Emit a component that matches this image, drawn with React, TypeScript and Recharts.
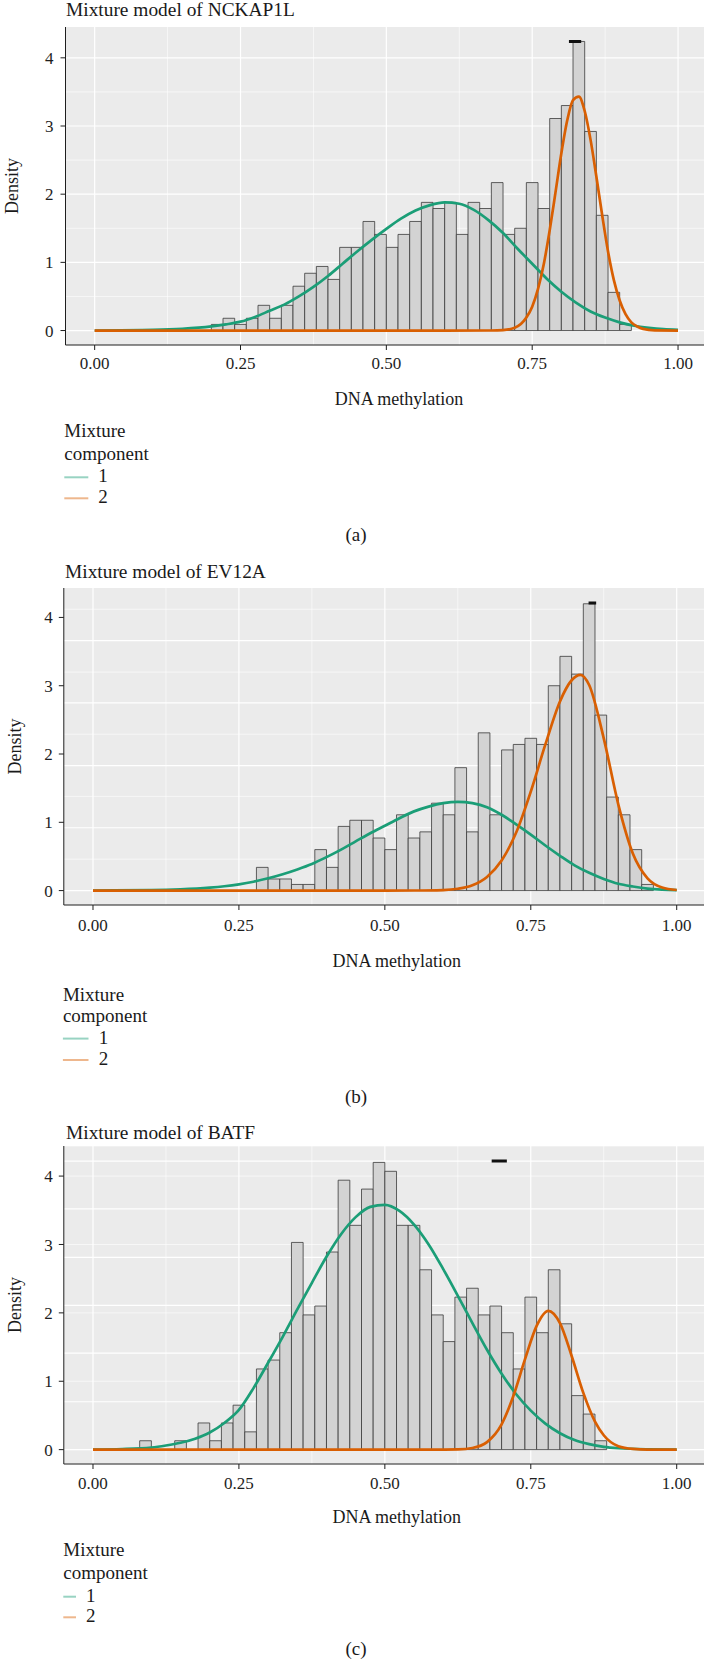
import React from "react"
import { ComposedChart, XAxis, YAxis, Line, ReferenceArea, CartesianGrid } from "recharts"

// histogram bins: [lower edge, density], bin width 0.02
const histA = [
  [0.2, 0.09], [0.22, 0.18], [0.24, 0.09], [0.26, 0.18], [0.28, 0.37], [0.3, 0.18], [0.32, 0.37],
  [0.34, 0.65], [0.36, 0.84], [0.38, 0.94], [0.4, 0.75], [0.42, 1.22], [0.44, 1.22], [0.46, 1.6],
  [0.48, 1.41], [0.5, 1.22], [0.52, 1.41], [0.54, 1.6], [0.56, 1.88], [0.58, 1.79], [0.6, 1.88],
  [0.62, 1.41], [0.64, 1.88], [0.66, 1.79], [0.68, 2.17], [0.7, 1.41], [0.72, 1.5], [0.74, 2.17],
  [0.76, 1.79], [0.78, 3.11], [0.8, 3.3], [0.82, 4.24], [0.84, 2.92], [0.86, 1.69], [0.88, 0.56],
  [0.9, 0.09],
]
const histB = [
  [0.28, 0.34], [0.3, 0.17], [0.32, 0.17], [0.34, 0.09], [0.36, 0.09], [0.38, 0.6], [0.4, 0.34],
  [0.42, 0.94], [0.44, 1.03], [0.46, 1.03], [0.48, 0.77], [0.5, 0.6], [0.52, 1.11], [0.54, 0.77],
  [0.56, 0.86], [0.58, 1.28], [0.6, 1.11], [0.62, 1.8], [0.64, 0.86], [0.66, 2.31], [0.68, 1.11],
  [0.7, 2.06], [0.72, 2.14], [0.74, 2.23], [0.76, 2.14], [0.78, 3.0], [0.8, 3.43], [0.82, 3.17],
  [0.84, 4.2], [0.86, 2.57], [0.88, 1.37], [0.9, 1.11], [0.92, 0.6], [0.94, 0.09],
]
const histC = [
  [0.08, 0.13], [0.14, 0.13], [0.18, 0.39], [0.2, 0.13], [0.22, 0.39], [0.24, 0.65], [0.26, 0.26],
  [0.28, 1.18], [0.3, 1.31], [0.32, 1.71], [0.34, 3.03], [0.36, 1.97], [0.38, 2.1], [0.4, 2.89],
  [0.42, 3.94], [0.44, 3.28], [0.46, 3.81], [0.48, 4.2], [0.5, 4.07], [0.52, 3.28], [0.54, 3.28],
  [0.56, 2.63], [0.58, 1.97], [0.6, 1.58], [0.62, 2.23], [0.64, 2.36], [0.66, 1.97], [0.68, 2.1],
  [0.7, 1.71], [0.72, 1.18], [0.74, 2.23], [0.76, 1.71], [0.78, 2.63], [0.8, 1.84], [0.82, 0.79],
  [0.84, 0.52], [0.86, 0.13],
]

// fitted component densities: [x, density]
const comp1A = [
  [0, 0.001], [0.1, 0.01], [0.15, 0.025], [0.2, 0.06], [0.225, 0.09], [0.25, 0.13], [0.275, 0.2],
  [0.3, 0.29], [0.325, 0.38], [0.35, 0.5], [0.375, 0.64], [0.4, 0.8], [0.425, 0.98], [0.45, 1.16],
  [0.475, 1.33], [0.5, 1.49], [0.525, 1.64], [0.55, 1.76], [0.575, 1.84], [0.6, 1.88], [0.625, 1.86],
  [0.65, 1.77], [0.675, 1.62], [0.7, 1.43], [0.725, 1.2], [0.75, 0.98], [0.775, 0.76], [0.8, 0.57],
  [0.825, 0.41], [0.85, 0.28], [0.875, 0.19], [0.9, 0.12], [0.925, 0.07], [0.95, 0.04], [0.975, 0.02],
  [1, 0.01],
]
const comp2A = [
  [0, 0], [0.6, 0], [0.68, 0.001], [0.7, 0.007], [0.72, 0.04], [0.74, 0.19], [0.75, 0.35], [0.76, 0.61],
  [0.77, 0.98], [0.78, 1.47], [0.79, 2.03], [0.8, 2.6], [0.81, 3.08], [0.82, 3.38], [0.83, 3.43],
  [0.84, 3.22], [0.85, 2.8], [0.86, 2.26], [0.87, 1.69], [0.88, 1.16], [0.89, 0.74], [0.9, 0.44],
  [0.91, 0.24], [0.92, 0.12], [0.93, 0.06], [0.94, 0.025], [0.96, 0.003], [1, 0],
]
const comp1B = [
  [0, 0.001], [0.1, 0.007], [0.15, 0.019], [0.2, 0.044], [0.225, 0.064], [0.25, 0.092], [0.275, 0.13],
  [0.3, 0.18], [0.325, 0.24], [0.35, 0.31], [0.375, 0.39], [0.4, 0.49], [0.425, 0.6], [0.45, 0.72],
  [0.475, 0.84], [0.5, 0.95], [0.525, 1.06], [0.55, 1.16], [0.575, 1.23], [0.6, 1.28], [0.625, 1.3],
  [0.65, 1.28], [0.675, 1.22], [0.7, 1.11], [0.725, 0.97], [0.75, 0.82], [0.775, 0.66], [0.8, 0.51],
  [0.825, 0.37], [0.85, 0.26], [0.875, 0.17], [0.9, 0.1], [0.925, 0.06], [0.95, 0.03], [0.975, 0.015],
  [1, 0.008],
]
const comp2B = [
  [0, 0], [0.5, 0], [0.55, 0.001], [0.6, 0.008], [0.625, 0.027], [0.65, 0.078], [0.675, 0.2], [0.7, 0.44],
  [0.725, 0.85], [0.75, 1.45], [0.775, 2.14], [0.8, 2.77], [0.82, 3.08], [0.835, 3.16], [0.85, 3.01],
  [0.875, 2.23], [0.9, 1.26], [0.925, 0.54], [0.95, 0.18], [0.975, 0.045], [1, 0.009],
]
const comp1C = [
  [0, 0.001], [0.05, 0.008], [0.1, 0.03], [0.125, 0.06], [0.15, 0.1], [0.175, 0.16], [0.2, 0.25],
  [0.225, 0.39], [0.25, 0.58], [0.275, 0.9], [0.3, 1.27], [0.325, 1.65], [0.35, 2.05], [0.375, 2.44],
  [0.4, 2.82], [0.425, 3.15], [0.45, 3.4], [0.475, 3.55], [0.5, 3.58], [0.525, 3.49], [0.55, 3.29],
  [0.575, 3.0], [0.6, 2.64], [0.625, 2.25], [0.65, 1.85], [0.675, 1.46], [0.7, 1.11], [0.725, 0.81],
  [0.75, 0.57], [0.775, 0.38], [0.8, 0.24], [0.825, 0.14], [0.85, 0.08], [0.875, 0.04], [0.9, 0.02],
  [0.95, 0.005], [1, 0.001],
]
const comp2C = [
  [0, 0], [0.58, 0], [0.625, 0.004], [0.65, 0.024], [0.675, 0.11], [0.7, 0.37], [0.72, 0.78], [0.74, 1.32],
  [0.76, 1.81], [0.78, 2.03], [0.8, 1.85], [0.82, 1.37], [0.84, 0.83], [0.86, 0.41], [0.875, 0.21],
  [0.9, 0.05], [0.925, 0.01], [0.95, 0.001], [1, 0],
]

// the short black dash near the top of each panel
const markA = [[0.813, 4.24], [0.834, 4.24]]
const markB = [[0.849, 4.21], [0.862, 4.21]]
const markC = [[0.683, 4.22], [0.709, 4.22]]

const titles = ["Mixture model of NCKAP1L", "Mixture model of EV12A", "Mixture model of BATF"]
const captions = ["(a)", "(b)", "(c)"]
const components = ["1", "2"]
const xTicks = [0, 0.25, 0.5, 0.75, 1]
const xMinor = [0.125, 0.375, 0.625, 0.875]
const yTicks = [0, 1, 2, 3, 4]

// horizontal grid lines as they sit in each panel
const gridMajorA = [0, 1, 2, 3, 4]
const gridMinorA = [0.5, 1.5, 2.5, 3.5]
const gridMajorB = [0, 0.92, 1.83, 2.75, 3.66]
const gridMinorB = [0.46, 1.38, 2.29, 3.2, 4.12]
const gridMajorC = [0, 0.7, 1.41, 2.11, 2.81, 3.52, 4.22]
const gridMinorC: number[] = []

const COL1 = "#1b9e77"
const COL2 = "#d95f02"
const FONT = "Liberation Serif, DejaVu Serif, serif"
const W = 720
const PAD = 8
const AXIS_H = 34

const panels = [
  {
    hist: histA, c1: comp1A, c2: comp2A, mark: markA, major: gridMajorA, minor: gridMinorA,
    top: 27, bottom: 345, left: 65.5, right: 707.2, yDomain: [-0.212, 4.452], xGap: 7, yGap: 7,
    titleY: 16, titleX: 66, densX: 17.5, axisX: 399, axisY: 405,
    legY: [437.3, 460, 482.3, 503.3], legLine: [64.3, 88.3], legText: 98.3, capY: 541,
  },
  {
    hist: histB, c1: comp1B, c2: comp2B, mark: markB, major: gridMajorB, minor: gridMinorB,
    top: 588, bottom: 905, left: 63.8, right: 705.9, yDomain: [-0.211, 4.431], xGap: 9, yGap: 6,
    titleY: 577.5, titleX: 65, densX: 21, axisX: 396.7, axisY: 967,
    legY: [1000.7, 1022, 1043.6, 1065], legLine: [62.9, 88.5], legText: 98.8, capY: 1103,
  },
  {
    hist: histC, c1: comp1C, c2: comp2C, mark: markC, major: gridMajorC, minor: gridMinorC,
    top: 1146, bottom: 1464, left: 63.8, right: 705.9, yDomain: [-0.21, 4.44], xGap: 8, yGap: 6,
    titleY: 1139.3, titleX: 66, densX: 21, axisX: 396.7, axisY: 1523,
    legY: [1556, 1579.3, 1601.7, 1622.3], legLine: [63.3, 76], legText: 86, capY: 1655,
  },
]

const toXY = (arr: number[][]) => arr.map(([x, y]) => ({ x, y }))

function Panel({ p }: { p: (typeof panels)[number] }) {
  const plotH = p.bottom - p.top
  const tickStyle = { fill: "#1e1e1e", fontSize: 17, fontFamily: FONT, style: { fontFamily: FONT } }
  return (
    <div style={{ position: "absolute", left: 0, top: p.top - PAD }}>
      <ComposedChart
        width={W}
        height={PAD + plotH + AXIS_H}
        margin={{ top: PAD, right: W - p.right, bottom: 0, left: 0 }}
        style={{ fontFamily: FONT }}
      >
        <CartesianGrid
          fill="#ebebeb"
          fillOpacity={1}
          stroke="#ffffff"
          strokeWidth={0.6}
          horizontalValues={p.minor}
          verticalValues={xMinor}
        />
        <CartesianGrid stroke="#ffffff" strokeWidth={1.2} horizontalValues={p.major} verticalValues={xTicks} />
        <XAxis
          type="number"
          dataKey="x"
          domain={[-0.05, 1.05]}
          ticks={xTicks}
          interval={0}
          allowDataOverflow
          tickFormatter={(v: number) => v.toFixed(2)}
          height={AXIS_H}
          tickSize={5}
          tickMargin={p.xGap}
          axisLine={{ stroke: "#1e1e1e", strokeWidth: 1 }}
          tickLine={{ stroke: "#1e1e1e", strokeWidth: 1 }}
          tick={tickStyle}
        />
        <YAxis
          type="number"
          domain={p.yDomain}
          ticks={yTicks}
          interval={0}
          allowDataOverflow
          width={p.left}
          tickSize={5}
          tickMargin={p.yGap}
          axisLine={{ stroke: "#1e1e1e", strokeWidth: 1 }}
          tickLine={{ stroke: "#1e1e1e", strokeWidth: 1 }}
          tick={tickStyle}
        />
        {p.hist.map(([lo, d]) => (
          <ReferenceArea
            key={lo}
            x1={lo}
            x2={lo + 0.02}
            y1={0}
            y2={d}
            fill="#d3d3d3"
            fillOpacity={1}
            stroke="#3a3a3a"
            strokeWidth={0.8}
            ifOverflow="visible"
          />
        ))}
        <Line data={toXY(p.mark)} dataKey="y" type="linear" stroke="#111" strokeWidth={3} dot={false} activeDot={false} isAnimationActive={false} />
        <Line data={toXY(p.c1)} dataKey="y" type="monotone" stroke={COL1} strokeWidth={2.7} dot={false} activeDot={false} isAnimationActive={false} />
        <Line data={toXY(p.c2)} dataKey="y" type="monotone" stroke={COL2} strokeWidth={2.7} dot={false} activeDot={false} isAnimationActive={false} />
      </ComposedChart>
    </div>
  )
}

function PanelText({ p, i }: { p: (typeof panels)[number]; i: number }) {
  const midY = (p.top + p.bottom) / 2
  const legCols = [COL1, COL2]
  return (
    <g style={{ fontFamily: FONT, fontSize: 18 }} fill="#1a1a1a">
      <text x={p.titleX} y={p.titleY} style={{ fontSize: 19.4 }}>{titles[i]}</text>
      <text x={p.densX} y={midY} textAnchor="middle" transform={`rotate(-90 ${p.densX} ${midY})`}>Density</text>
      <text x={p.axisX} y={p.axisY} textAnchor="middle">DNA methylation</text>
      <text x={p.legLine[0]} y={p.legY[0]} style={{ fontSize: 19 }}>Mixture</text>
      <text x={p.legLine[0]} y={p.legY[1]} style={{ fontSize: 19 }}>component</text>
      {components.map((c, k) => (
        <g key={c}>
          <line
            x1={p.legLine[0]}
            x2={p.legLine[1]}
            y1={p.legY[2 + k] - 5}
            y2={p.legY[2 + k] - 5}
            stroke={legCols[k]}
            strokeOpacity={0.45}
            strokeWidth={2}
          />
          <text x={p.legText} y={p.legY[2 + k]} style={{ fontSize: 19 }}>{c}</text>
        </g>
      ))}
      <text x={356} y={p.capY} textAnchor="middle" style={{ fontSize: 19 }}>{captions[i]}</text>
    </g>
  )
}

export default function App() {
  return (
    <div style={{ position: "relative", width: 704, height: 1666, overflow: "hidden", background: "#fff", fontFamily: FONT }}>
      <style>{"body{margin:0}"}</style>
      {panels.map((p, i) => (
        <Panel key={i} p={p} />
      ))}
      <svg width={704} height={1666} style={{ position: "absolute", left: 0, top: 0, pointerEvents: "none" }}>
        {panels.map((p, i) => (
          <PanelText key={i} p={p} i={i} />
        ))}
      </svg>
    </div>
  )
}
